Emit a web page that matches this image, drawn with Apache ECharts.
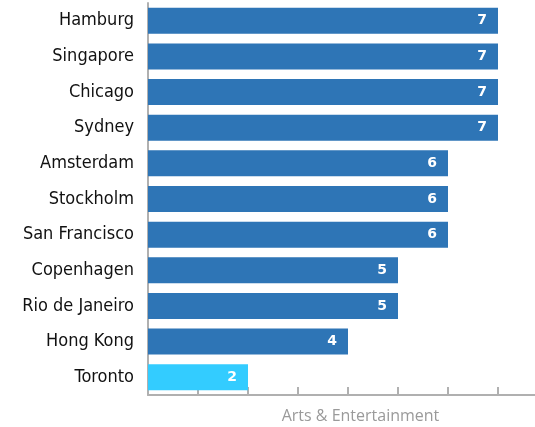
<!DOCTYPE html>
<html>
<head>
<meta charset="utf-8">
<script src="https://cdn.jsdelivr.net/npm/echarts@6/dist/echarts.min.js"></script>
<style>
  html, body { margin: 0; padding: 0; background: #fff; }
  #chart { width: 535px; height: 427px; }
</style>
</head>
<body>
<div id="chart"></div>
<script>
// City ranking, top to bottom
const cities = ['Hamburg', 'Singapore', 'Chicago', 'Sydney', 'Amsterdam', 'Stockholm',
  'San Francisco', 'Copenhagen', 'Rio de Janeiro', 'Hong Kong', 'Toronto'];
const scores = [7, 7, 7, 7, 6, 6, 6, 5, 5, 4, 2];
const highlightCity = 'Toronto';
const axisTitle = 'Arts & Entertainment';

const baseColor = '#2e75b6';
const highlightColor = '#33ccff';

const chart = echarts.init(document.getElementById('chart'), null, { renderer: 'canvas' });

chart.setOption({
  animation: false,
  grid: { left: 148, right: -38, top: 3, bottom: 32, containLabel: false, outerBoundsMode: 'none' },
  xAxis: {
    type: 'value',
    min: 0,
    max: 8.5,
    interval: 1,
    name: axisTitle,
    nameLocation: 'middle',
    nameGap: 13,
    nameTextStyle: { color: '#9a9a9a', fontSize: 16, fontFamily: 'Open Sans' },
    axisLine: { show: true, lineStyle: { color: '#b0b0b0', width: 2 } },
    axisTick: { show: true, inside: true, length: 8, lineStyle: { color: '#b0b0b0', width: 2 } },
    axisLabel: { show: false },
    splitLine: { show: false }
  },
  yAxis: {
    type: 'category',
    data: cities,
    inverse: true,
    axisLine: { show: true, lineStyle: { color: '#b0b0b0', width: 2 } },
    axisTick: { show: false },
    axisLabel: { color: '#111111', fontSize: 18, fontFamily: 'DejaVu Sans Condensed, DejaVu Sans', margin: 14 }
  },
  series: [{
    type: 'bar',
    data: scores.map((v, i) => ({
      value: v,
      itemStyle: { color: cities[i] === highlightCity ? highlightColor : baseColor }
    })),
    barCategoryGap: '27%',
    label: {
      show: true,
      position: 'insideRight',
      distance: 11,
      color: '#ffffff',
      fontWeight: 'bold',
      fontSize: 14,
      fontFamily: 'DejaVu Sans'
    }
  }]
});
</script>
</body>
</html>
